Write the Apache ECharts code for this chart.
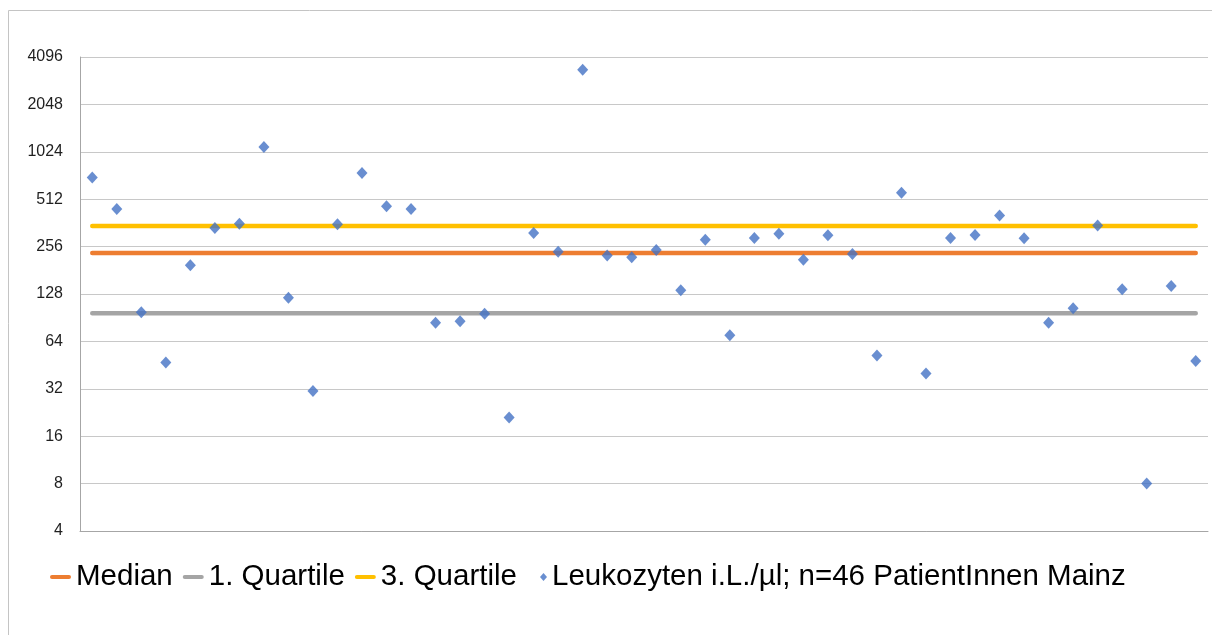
<!DOCTYPE html>
<html>
<head>
<meta charset="utf-8">
<script src="https://cdn.jsdelivr.net/npm/echarts@6/dist/echarts.min.js"></script>
<style>
  html, body { margin: 0; padding: 0; background: #ffffff; }
  #chart { width: 1212px; height: 635px; }
</style>
</head>
<body>
<div id="chart"></div>
<script>
// Leukocyte counts per patient (cells/µl), one value per patient, n = 46
const patients = Array.from({ length: 46 }, (_, i) => String(i + 1));
const leukozyten = [
  704, 443, 98, 47, 195, 336, 357, 1098, 121, 31,
  355, 750, 462, 443, 84, 86, 96, 21, 312, 237,
  3400, 225, 219, 244, 135, 283, 70, 290, 309, 211,
  302, 230, 52, 563, 40, 290, 303, 404, 289, 84,
  104, 349, 137, 8, 144, 48
];
// Summary statistics drawn as horizontal reference lines
const medianValue = 233.5;
const quartile1 = 96.5;
const quartile3 = 346;
// Log2 axis tick values
const yTicks = [4, 8, 16, 32, 64, 128, 256, 512, 1024, 2048, 4096];

const seriesNames = ['Median', '1. Quartile', '3. Quartile', 'Leukozyten i.L./µl; n=46 PatientInnen Mainz'];
const lineColors = ['#ED7D31', '#A5A5A5', '#FFC000'];
const pointColor = '#4472C4';

const chart = echarts.init(document.getElementById('chart'), null, { renderer: 'canvas' });

const flat = v => patients.map(() => v);
const lineSeries = (name, value, color) => ({
  name, type: 'line', data: flat(value),
  symbol: 'none', silent: true,
  lineStyle: { color, width: 4.5, cap: 'round' },
  itemStyle: { color },
  z: 2
});

const linePath = 'path://M2,0L19,0A2,2,0,0,1,19,4L2,4A2,2,0,0,1,2,0Z';
const legendText = { fontFamily: 'Liberation Sans', fontSize: 29.5, color: '#000000' };

chart.setOption({
  animation: false,
  backgroundColor: '#ffffff',
  graphic: [{
    type: 'rect', z: -10, silent: true,
    shape: { x: 8.5, y: 10.5, width: 1300, height: 700 },
    style: { fill: 'none', stroke: '#c4c4c4', lineWidth: 1 }
  }],
  grid: { left: 80, right: 4, top: 57, bottom: 104, containLabel: false },
  legend: [{
    left: 45, top: 557,
    itemWidth: 21, itemHeight: 4, itemGap: 10,
    symbolKeepAspect: false,
    selectedMode: false,
    data: seriesNames.slice(0, 3).map(n => ({ name: n, icon: linePath })),
    textStyle: legendText
  }, {
    left: 535, top: 557,
    itemWidth: 7, itemHeight: 8,
    selectedMode: false,
    data: [{ name: seriesNames[3], icon: 'diamond' }],
    textStyle: legendText
  }],
  xAxis: {
    type: 'category', data: patients, boundaryGap: true,
    axisLine: { show: true, lineStyle: { color: '#a6a6a6', width: 1 } },
    axisTick: { show: false },
    axisLabel: { show: false },
    splitLine: { show: false }
  },
  yAxis: {
    type: 'log', logBase: 2, min: yTicks[0], max: yTicks[yTicks.length - 1], interval: 1,
    axisLine: { show: true, lineStyle: { color: '#a6a6a6', width: 1 } },
    axisTick: { show: false },
    splitLine: { show: true, lineStyle: { color: '#c8c8c8', width: 1 } },
    axisLabel: {
      margin: 17, color: '#1f1f1f',
      fontFamily: 'Liberation Sans', fontSize: 16,
      formatter: v => String(Math.round(v))
    }
  },
  series: [
    lineSeries(seriesNames[0], medianValue, lineColors[0]),
    lineSeries(seriesNames[1], quartile1, lineColors[1]),
    lineSeries(seriesNames[2], quartile3, lineColors[2]),
    {
      name: seriesNames[3], type: 'scatter', data: leukozyten,
      symbol: 'diamond', symbolSize: [11, 12],
      itemStyle: { color: pointColor },
      z: 5
    }
  ]
});
</script>
</body>
</html>
